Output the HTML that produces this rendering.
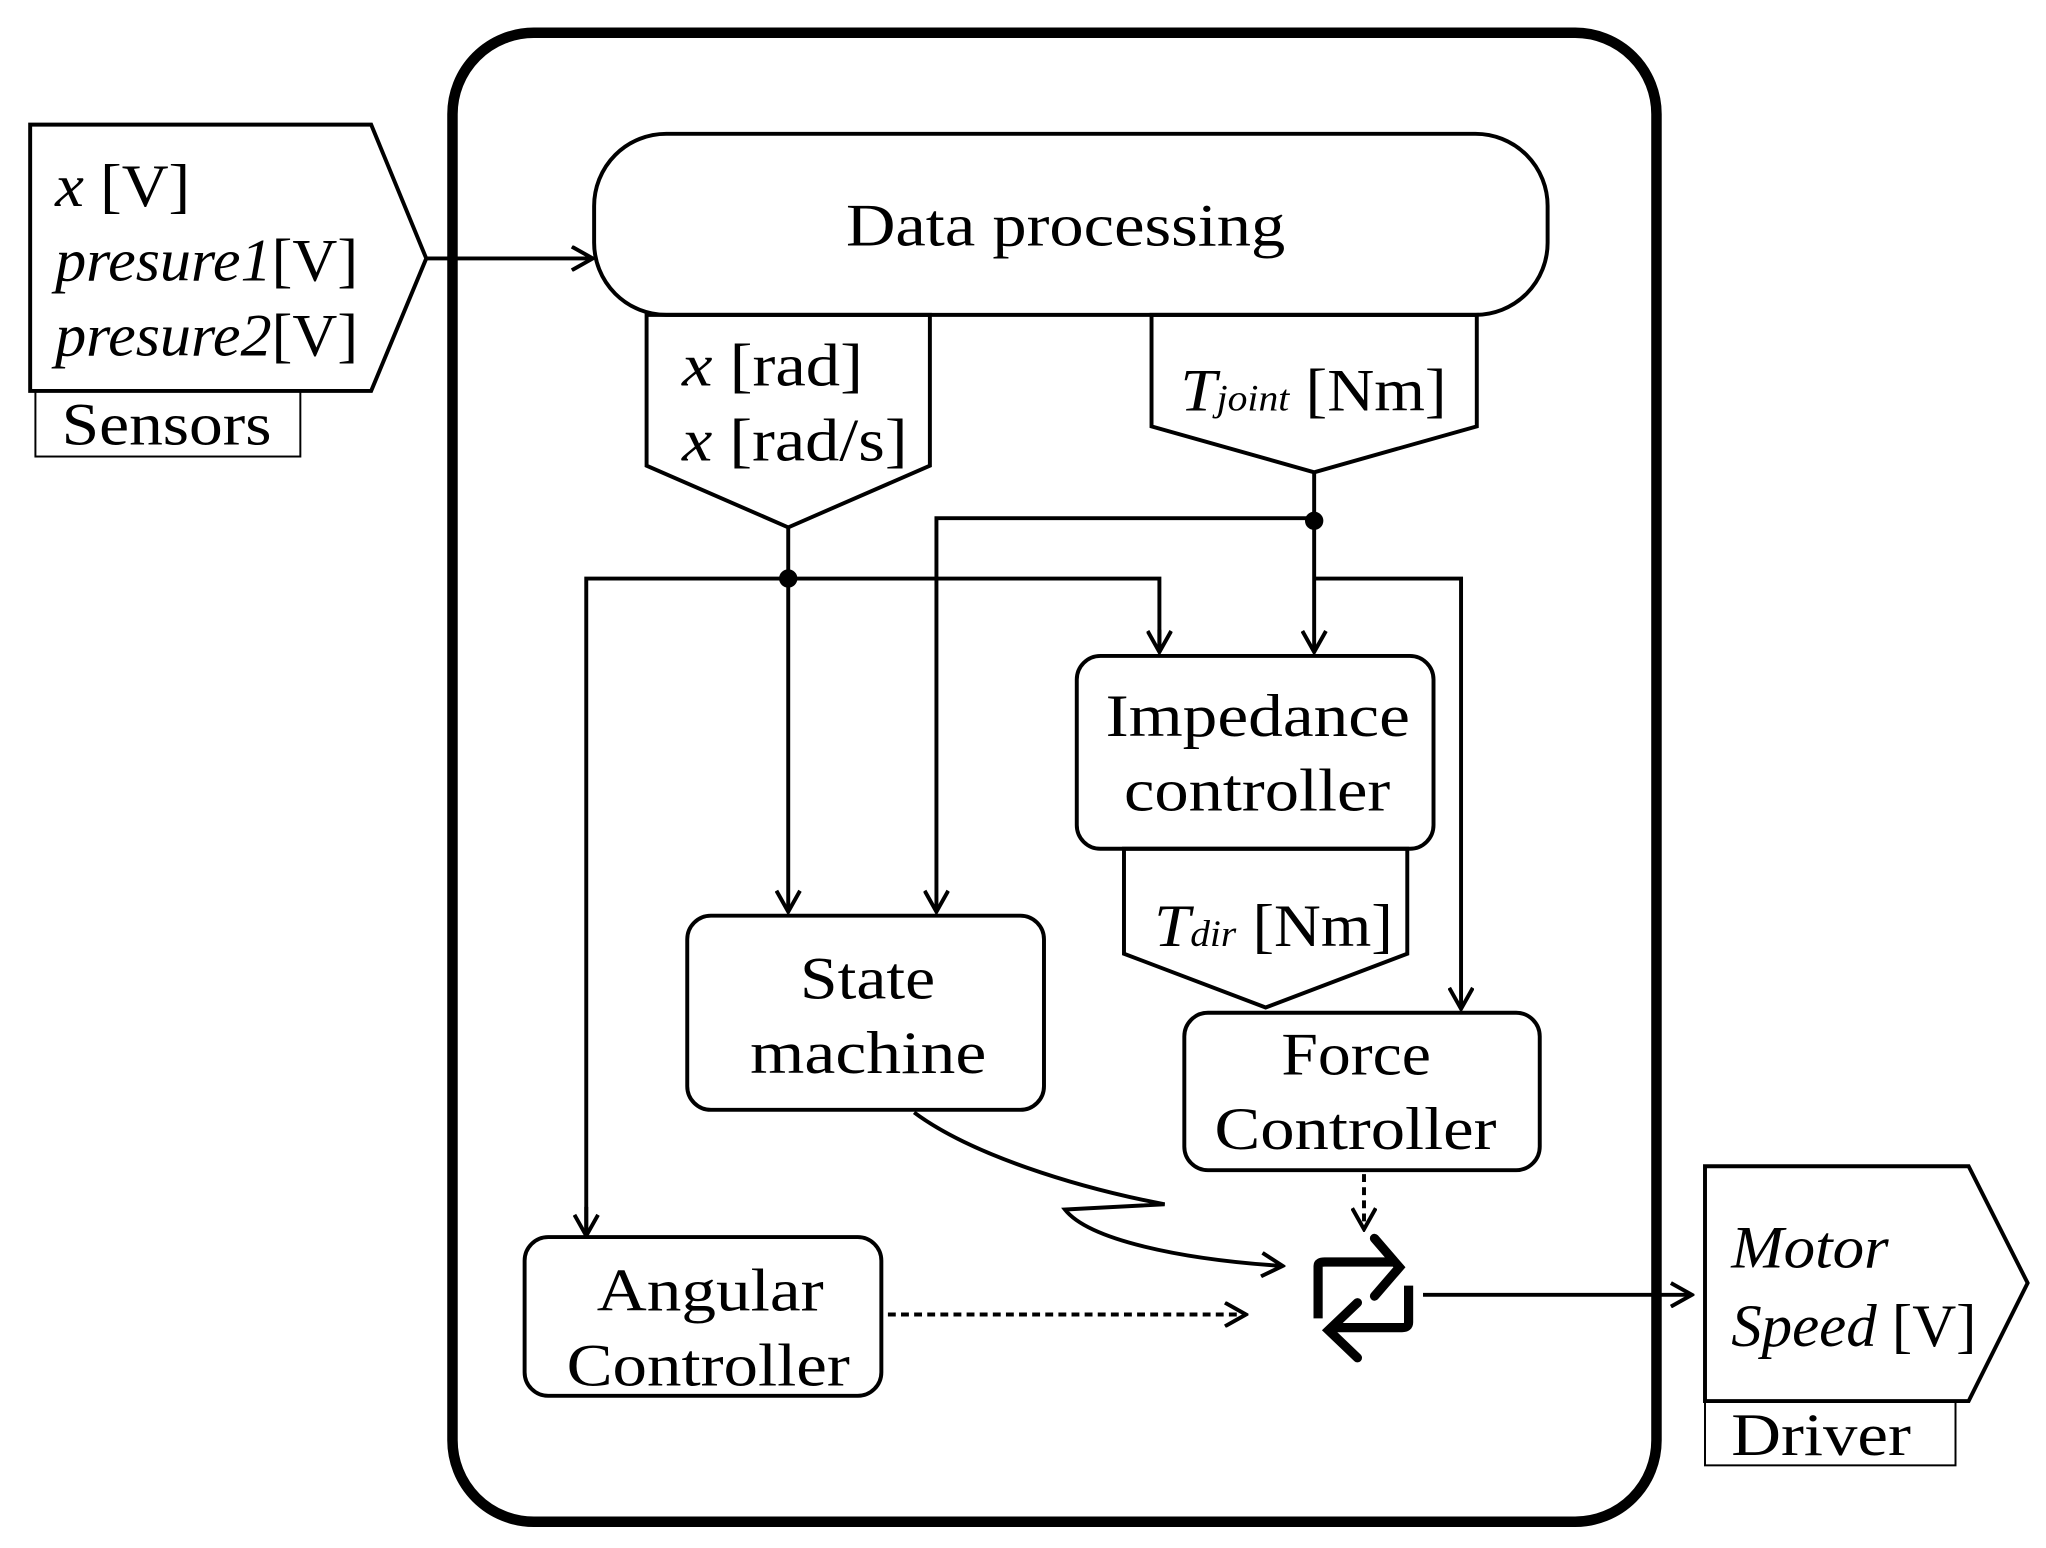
<!DOCTYPE html>
<html><head><meta charset="utf-8"><style>
html,body{margin:0;padding:0;background:#fff;}
svg{display:block;}
text{font-family:"Liberation Serif",serif;fill:#000;}
.i{font-style:italic;}
</style></head><body>
<svg width="2046" height="1548" viewBox="0 0 1560 1180" preserveAspectRatio="none" xmlns="http://www.w3.org/2000/svg">
<defs>
<marker id="a" viewBox="0 0 20 20" refX="18" refY="10" markerWidth="20" markerHeight="20" markerUnits="userSpaceOnUse" orient="auto">
<path d="M2,1 L18,10 L2,19" fill="none" stroke="#000" stroke-width="3"/>
</marker>
</defs>
<g fill="none" stroke="#000">
<rect x="345" y="25" width="918" height="1135" rx="62" stroke-width="8"/>
<polygon points="23,95 283,95 325,197 283,298 23,298" stroke-width="3"/>
<rect x="27" y="298" width="202" height="50" stroke-width="1.5"/>
<line x1="325" y1="197" x2="452" y2="197" stroke-width="3" marker-end="url(#a)"/>
<rect x="453" y="102" width="727" height="138" rx="55" stroke-width="3"/>
<polygon points="493,240 709,240 709,355 601,402 493,355" stroke-width="3"/>
<polygon points="878,240 1126,240 1126,325 1002,360 878,325" stroke-width="3"/>
<line x1="601" y1="402" x2="601" y2="695" stroke-width="3" marker-end="url(#a)"/>
<polyline points="884,497 884,441 447,441 447,942" stroke-width="3"/>
<line x1="884" y1="480" x2="884" y2="497" stroke-width="3" marker-end="url(#a)"/>
<line x1="447" y1="920" x2="447" y2="942" stroke-width="3" marker-end="url(#a)"/>
<line x1="1002" y1="360" x2="1002" y2="497" stroke-width="3" marker-end="url(#a)"/>
<polyline points="1002,395 714,395 714,695" stroke-width="3" marker-end="url(#a)"/>
<polyline points="1002,441 1114,441 1114,769" stroke-width="3" marker-end="url(#a)"/>
<rect x="821" y="500" width="272" height="147" rx="18" stroke-width="3"/>
<polygon points="857,647 1073,647 1073,727 965,768 857,727" stroke-width="3"/>
<rect x="524" y="698" width="272" height="148" rx="18" stroke-width="3"/>
<rect x="903" y="772" width="271" height="120" rx="18" stroke-width="3"/>
<rect x="400" y="943" width="272" height="121" rx="18" stroke-width="3"/>
<line x1="677" y1="1002" x2="950" y2="1002" stroke-width="3" stroke-dasharray="6,4" marker-end="url(#a)"/>
<line x1="1040" y1="895" x2="1040" y2="937" stroke-width="3" stroke-dasharray="6,4" marker-end="url(#a)"/>
<path d="M697,848 C740,880 820,905 888,918 L812,922 C830,945 900,960 978,965" stroke-width="3" marker-end="url(#a)"/>
<path d="M1005,1005 L1005,965 Q1005,962 1010,962 L1062,962" stroke-width="7"/>
<path d="M1048,944 L1067,966 L1048,988" stroke-width="7" stroke-linecap="round"/>
<path d="M1074,980 L1074,1008 Q1074,1012 1069,1012 L1015,1012" stroke-width="7"/>
<path d="M1035,993 L1013,1014 L1035,1035" stroke-width="7" stroke-linecap="round"/>
<line x1="1085" y1="987" x2="1290" y2="987" stroke-width="3" marker-end="url(#a)"/>
<polygon points="1300,889 1501,889 1546,978 1501,1068 1300,1068" stroke-width="3"/>
<rect x="1300" y="1068" width="191" height="49" stroke-width="1.5"/>
</g>
<circle cx="601" cy="441" r="7" fill="#000"/>
<circle cx="1002" cy="397" r="7" fill="#000"/>
<g font-size="46" lengthAdjust="spacingAndGlyphs">
<text x="42" y="157" textLength="103" lengthAdjust="spacingAndGlyphs"><tspan class="i">x</tspan> [V]</text>
<text x="42" y="214" textLength="231" lengthAdjust="spacingAndGlyphs"><tspan class="i">presure1</tspan>[V]</text>
<text x="42" y="271" textLength="231" lengthAdjust="spacingAndGlyphs"><tspan class="i">presure2</tspan>[V]</text>
<text x="47" y="339" textLength="160" lengthAdjust="spacingAndGlyphs">Sensors</text>
<text x="645" y="187" textLength="335" lengthAdjust="spacingAndGlyphs">Data processing</text>
<text x="520" y="294" textLength="138" lengthAdjust="spacingAndGlyphs"><tspan class="i">x</tspan> [rad]</text>
<text x="520" y="351" textLength="172" lengthAdjust="spacingAndGlyphs"><tspan class="i">x</tspan> [rad/s]</text>
<text x="900" y="313" textLength="203" lengthAdjust="spacingAndGlyphs"><tspan class="i">T</tspan><tspan class="i" font-size="28">joint</tspan> [Nm]</text>
<text x="843" y="561" textLength="232" lengthAdjust="spacingAndGlyphs">Impedance</text>
<text x="857" y="618" textLength="203" lengthAdjust="spacingAndGlyphs">controller</text>
<text x="880" y="721" textLength="182" lengthAdjust="spacingAndGlyphs"><tspan class="i">T</tspan><tspan class="i" font-size="28">dir</tspan> [Nm]</text>
<text x="610" y="761" textLength="103" lengthAdjust="spacingAndGlyphs">State</text>
<text x="572" y="818" textLength="180" lengthAdjust="spacingAndGlyphs">machine</text>
<text x="977" y="819" textLength="114" lengthAdjust="spacingAndGlyphs">Force</text>
<text x="926" y="876" textLength="215" lengthAdjust="spacingAndGlyphs">Controller</text>
<text x="455" y="999" textLength="173" lengthAdjust="spacingAndGlyphs">Angular</text>
<text x="432" y="1056" textLength="216" lengthAdjust="spacingAndGlyphs">Controller</text>
<text x="1320" y="966" class="i" textLength="120" lengthAdjust="spacingAndGlyphs">Motor</text>
<text x="1320" y="1026" textLength="187" lengthAdjust="spacingAndGlyphs"><tspan class="i">Speed</tspan> [V]</text>
<text x="1320" y="1109" textLength="137" lengthAdjust="spacingAndGlyphs">Driver</text>
</g>
</svg>
</body></html>
